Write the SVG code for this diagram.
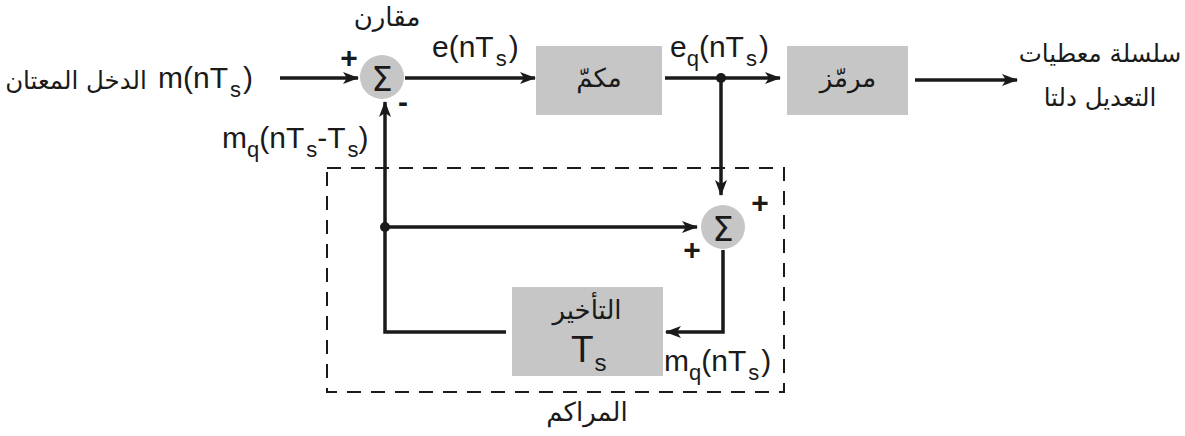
<svg xmlns="http://www.w3.org/2000/svg" width="1185" height="436" viewBox="0 0 1185 436">
<defs>
<marker id="ah" viewBox="0 0 16 12" refX="15" refY="6" markerWidth="16" markerHeight="12" markerUnits="userSpaceOnUse" orient="auto">
<path d="M0,0 L16,6 L0,12 L4,6 Z" fill="#1a1a1a"/>
</marker>
<style>
.w{stroke:#1a1a1a;stroke-width:3.5;fill:none}
.box{fill:#c6c6c6}
.sum{fill:#c6c6c6}
.t{font-family:"Liberation Sans",Arial,sans-serif;font-size:30px;fill:#1a1a1a}
.sub{font-size:22px}
.ar{font-family:"DejaVu Sans","Noto Sans",sans-serif;font-size:26px;fill:#1a1a1a}
.ars{font-family:"DejaVu Sans","Noto Sans",sans-serif;font-size:24.5px;fill:#1a1a1a}
.sg{font-family:"DejaVu Sans","Liberation Sans",sans-serif;font-size:34px;fill:#1a1a1a}
.pm{font-family:"Liberation Sans",Arial,sans-serif;font-size:30px;font-weight:bold;fill:#1a1a1a}
</style>
</defs>
<rect width="1185" height="436" fill="#ffffff"/>

<g id="connectors">
<path class="w" d="M280,78 H358" marker-end="url(#ah)"/>
<path class="w" d="M405,78 H535" marker-end="url(#ah)"/>
<path class="w" d="M665,78 H780" marker-end="url(#ah)"/>
<path class="w" d="M915,80 H1017" marker-end="url(#ah)"/>
<path class="w" d="M721,78 V195" marker-end="url(#ah)"/>
<path class="w" d="M385,227 H697" marker-end="url(#ah)"/>
<path class="w" d="M723,250 V332 H666" marker-end="url(#ah)"/>
<path class="w" d="M506,332 H385 V102" marker-end="url(#ah)"/>
<circle cx="721" cy="78" r="5" fill="#1a1a1a"/>
<circle cx="385" cy="227" r="5" fill="#1a1a1a"/>
</g>

<g id="accumulator">
<rect x="327" y="168" width="457" height="224" fill="none" stroke="#1a1a1a" stroke-width="2" stroke-dasharray="14,10"/>
<text class="ar" x="587" y="421" text-anchor="middle">المراكم</text>
</g>

<g id="comparator">
<circle class="sum" cx="382" cy="77" r="22"/>
<text class="sg" x="382" y="91" text-anchor="middle">Σ</text>
<text class="pm" x="349" y="68" text-anchor="middle">+</text>
<text class="pm" x="403" y="112" text-anchor="middle">-</text>
<text class="ar" x="387" y="26" text-anchor="middle">مقارن</text>
</g>

<g id="quantizer">
<rect class="box" x="536" y="46" width="126" height="69"/>
<text class="ar" x="599" y="87" text-anchor="middle">مكمّ</text>
</g>

<g id="encoder">
<rect class="box" x="787" y="46" width="121" height="69"/>
<text class="ar" x="848" y="87" text-anchor="middle">مرمّز</text>
</g>

<g id="sum2">
<circle class="sum" cx="723" cy="227" r="22"/>
<text class="sg" x="723" y="241" text-anchor="middle">Σ</text>
<text class="pm" x="760" y="213" text-anchor="middle">+</text>
<text class="pm" x="692" y="260" text-anchor="middle">+</text>
</g>

<g id="delay">
<rect class="box" x="512" y="287" width="151" height="89"/>
<text class="ar" x="587" y="319" text-anchor="middle">التأخير</text>
<text class="t" x="571" y="362" style="font-size:37px">T<tspan style="font-size:24px" dx="1" dy="9">s</tspan></text>
</g>

<g id="labels">
<text class="ars" x="76" y="89" text-anchor="middle">الدخل المعتان</text>
<text class="t" x="158" y="88">m(nT<tspan class="sub" dx="2" dy="9">s</tspan><tspan dx="2" dy="-9">)</tspan></text>
<text class="t" x="222" y="148">m<tspan class="sub" dy="9">q</tspan><tspan dy="-9">(nT</tspan><tspan class="sub" dx="2" dy="9">s</tspan><tspan dy="-9">-T</tspan><tspan class="sub" dx="2" dy="9">s</tspan><tspan dy="-9">)</tspan></text>
<text class="t" x="432" y="57">e(nT<tspan class="sub" dx="2" dy="9">s</tspan><tspan dx="2" dy="-9">)</tspan></text>
<text class="t" x="670" y="57">e<tspan class="sub" dy="9">q</tspan><tspan dy="-9">(nT</tspan><tspan class="sub" dx="2" dy="9">s</tspan><tspan dx="2" dy="-9">)</tspan></text>
<text class="t" x="664" y="371">m<tspan class="sub" dy="9">q</tspan><tspan dy="-9">(nT</tspan><tspan class="sub" dx="2" dy="9">s</tspan><tspan dx="2" dy="-9">)</tspan></text>
<text class="ars" x="1100" y="62" text-anchor="middle">سلسلة معطيات</text>
<text class="ars" x="1100" y="106" text-anchor="middle">التعديل دلتا</text>
</g>
</svg>
